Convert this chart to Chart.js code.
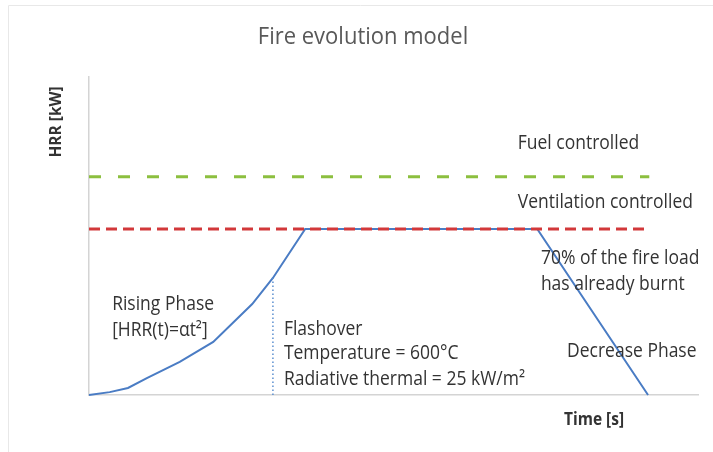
<!DOCTYPE html>
<html>
<head>
<meta charset="utf-8">
<script src="https://cdn.jsdelivr.net/npm/chart.js@4.4.1/dist/chart.umd.min.js"></script>
<style>
  html, body { margin: 0; padding: 0; background: #ffffff; }
  #wrap { width: 713px; height: 452px; position: relative; }
</style>
</head>
<body>
<div id="wrap"><canvas id="c" width="713" height="452"></canvas></div>
<script>
// ---- data (time and HRR in relative units 0-100) ----
const chartTitle = "Fire evolution model";
const xAxisTitle = "Time [s]";
const yAxisTitle = "HRR [kW]";

const hrrTime   = [0, 3.4, 6.4, 9.5, 14.9, 20.4, 26.8, 30.2, 35.5, 73.6, 91.8];
const hrrValue  = [0, 0.9, 2.2, 5.3, 10.4, 16.7, 28.6, 36.8, 52.2, 52.2, 0];

const fuelTime  = [0, 92];
const fuelValue = [68.6, 68.6];

const ventTime  = [0, 92];
const ventValue = [52.2, 52.2];

const flashTime  = [30.2, 30.2];
const flashValue = [0, 36.8];

const noteTexts = [
  "Fuel controlled",
  "Ventilation controlled",
  "70% of the fire load",
  "has already burnt",
  "Rising Phase",
  "[HRR(t)=\u03B1t\u00B2]",
  "Flashover",
  "Temperature = 600\u00B0C",
  "Radiative thermal = 25 kW/m\u00B2",
  "Decrease Phase"
];
const noteX = [70.4, 70.4, 74.2, 74.2, 3.8, 3.8, 32.0, 32.0, 32.0, 78.5];
const noteY = [79.2, 60.7, 43.1, 34.9, 28.6, 20.4, 20.7, 13.1, 5.0, 13.8];

const zip = (xs, ys) => xs.map((x, i) => ({ x: x, y: ys[i] }));

const FONT = "'Open Sans', 'Noto Sans', sans-serif";

function drawText(ctx, text, x, y, font, color, align, sy, rot) {
  ctx.save();
  ctx.font = font;
  ctx.fillStyle = color;
  ctx.textAlign = align;
  ctx.textBaseline = 'middle';
  ctx.translate(x, y);
  if (rot) ctx.rotate(rot);
  ctx.scale(1, sy);
  ctx.fillText(text, 0, 0);
  ctx.restore();
}

const decorPlugin = {
  id: 'decor',
  beforeDraw(chart) {
    const ctx = chart.ctx;
    ctx.save();
    ctx.strokeStyle = '#e8e8e8';
    ctx.lineWidth = 1;
    ctx.beginPath();
    ctx.moveTo(8.5, 452);
    ctx.lineTo(8.5, 5.5);
    ctx.lineTo(713, 5.5);
    ctx.stroke();
    ctx.restore();
  },
  afterDraw(chart) {
    const ctx = chart.ctx;
    const xs = chart.scales.x, ys = chart.scales.y;
    drawText(ctx, chartTitle, 363, 37, "22px " + FONT, '#595959', 'center', 1.05, 0);
    noteTexts.forEach((t, i) => {
      drawText(ctx, t, xs.getPixelForValue(noteX[i]), ys.getPixelForValue(noteY[i]),
               "17.5px " + FONT, '#333333', 'left', 1.12, 0);
    });
    drawText(ctx, xAxisTitle, 594, 420, "bold 15.5px " + FONT, '#333333', 'center', 1.15, 0);
    drawText(ctx, yAxisTitle, 57, 122, "bold 15.5px " + FONT, '#333333', 'center', 1.0, -Math.PI / 2);
  }
};

const zeroFit = {
  x: function (s) { s.height = 0; },
  y: function (s) { s.width = 0; }
};

new Chart(document.getElementById('c'), {
  type: 'line',
  data: {
    datasets: [
      { label: 'Ventilation controlled', data: zip(ventTime, ventValue), borderColor: '#d2383a',
        borderWidth: 3, borderDash: [11, 6], pointRadius: 0, fill: false, clip: false, order: 1 },
      { label: 'Fuel controlled', data: zip(fuelTime, fuelValue), borderColor: '#8cbf3f',
        borderWidth: 3, borderDash: [12, 17], pointRadius: 0, fill: false, clip: false, order: 2 },
      { label: 'Flashover', data: zip(flashTime, flashValue), borderColor: '#5b8fd0',
        borderWidth: 1.5, borderDash: [1.5, 2.5], pointRadius: 0, fill: false, clip: false, order: 3 },
      { label: 'HRR', data: zip(hrrTime, hrrValue), borderColor: '#4a7cc4',
        borderWidth: 2, pointRadius: 0, fill: false, clip: false, tension: 0, order: 4 }
    ]
  },
  options: {
    responsive: false,
    animation: false,
    devicePixelRatio: 1,
    layout: { padding: { left: 89, right: 15, top: 77, bottom: 57 } },
    plugins: { legend: { display: false }, tooltip: { enabled: false }, title: { display: false } },
    scales: {
      x: { type: 'linear', min: 0, max: 100, afterFit: zeroFit.x,
           grid: { display: false }, ticks: { display: false },
           border: { display: true, color: '#d4d4d4', width: 1.5 } },
      y: { type: 'linear', min: 0, max: 100, afterFit: zeroFit.y,
           grid: { display: false }, ticks: { display: false },
           border: { display: true, color: '#d4d4d4', width: 1.5 } }
    }
  },
  plugins: [decorPlugin]
});
</script>
</body>
</html>
